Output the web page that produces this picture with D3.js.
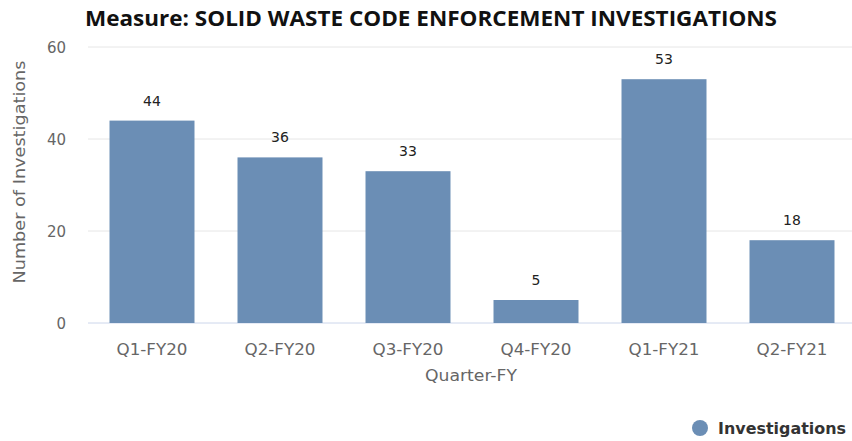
<!DOCTYPE html>
<html><head><meta charset="utf-8">
<script src="https://cdn.jsdelivr.net/npm/d3@7"></script>
<style>body{margin:0;background:#fff}</style>
</head><body>
<svg id="c" width="852" height="441"></svg>
<script>
const categories = ["Q1-FY20","Q2-FY20","Q3-FY20","Q4-FY20","Q1-FY21","Q2-FY21"];
const values = [44,36,33,5,53,18];
const yTicks = [0,20,40,60];
const title = "Measure: SOLID WASTE CODE ENFORCEMENT INVESTIGATIONS";
const seriesName = "Investigations";

const svg = d3.select("#c");
const color = "#6b8eb5";
const font = "DejaVu Sans, sans-serif";
const x = d3.scaleBand().domain(categories).range([88,856]).paddingInner(0.336).paddingOuter(0.168);
const y = d3.scaleLinear().domain([0,60]).range([323,47]);

svg.append("text").attr("x",431).attr("y",26).attr("text-anchor","middle")
  .attr("font-family","Open Sans, sans-serif").attr("font-weight","bold").attr("font-size",21)
  .attr("textLength",692).attr("lengthAdjust","spacingAndGlyphs").attr("fill","#111").text(title);

svg.selectAll("line.grid").data(yTicks).join("line").attr("class","grid")
  .attr("x1",88).attr("x2",852).attr("y1",d=>y(d)).attr("y2",d=>y(d))
  .attr("stroke",d=>d===0?"#ccd6eb":"#e6e6e6").attr("stroke-width",1);

const yAxis = d3.axisLeft(y).tickValues(yTicks).tickSize(0).tickPadding(0);
const ya = svg.append("g").attr("transform","translate(66,0)").call(yAxis);
ya.select(".domain").remove();
ya.selectAll("text").attr("font-family",font).attr("font-size",15).attr("fill","#666").attr("dy","0.35em");

svg.selectAll("rect.bar").data(values).join("rect").attr("class","bar")
  .attr("x",(d,i)=>x(categories[i])).attr("width",x.bandwidth())
  .attr("y",d=>y(d)).attr("height",d=>y(0)-y(d)).attr("fill",color);

svg.selectAll("text.lbl").data(values).join("text").attr("class","lbl")
  .attr("x",(d,i)=>x(categories[i])+x.bandwidth()/2).attr("y",d=>y(d)-15)
  .attr("text-anchor","middle").attr("font-family",font).attr("font-size",14)
  .attr("fill","#222").text(d=>d);

const xAxis = d3.axisBottom(x).tickSize(0).tickPadding(0);
const xa = svg.append("g").attr("transform","translate(0,323)").call(xAxis);
xa.select(".domain").remove();
xa.selectAll("text").attr("font-family",font).attr("font-size",15).attr("fill","#666").attr("dy","0").attr("y",32)
  .attr("textLength",71).attr("lengthAdjust","spacingAndGlyphs");

svg.append("text").attr("x",471).attr("y",381).attr("text-anchor","middle")
  .attr("font-family",font).attr("font-size",16).attr("fill","#666")
  .attr("textLength",92).attr("lengthAdjust","spacingAndGlyphs").text("Quarter-FY");
svg.append("text").attr("transform","translate(25,172) rotate(-90)").attr("text-anchor","middle")
  .attr("font-family",font).attr("font-size",16).attr("fill","#666")
  .attr("textLength",223).attr("lengthAdjust","spacingAndGlyphs").text("Number of Investigations");

svg.append("circle").attr("cx",700).attr("cy",428).attr("r",8).attr("fill",color);
svg.append("text").attr("x",718).attr("y",434).attr("font-family",font)
  .attr("font-weight","bold").attr("font-size",15).attr("fill","#333")
  .attr("textLength",128).attr("lengthAdjust","spacingAndGlyphs").text(seriesName);
</script>
</body></html>
